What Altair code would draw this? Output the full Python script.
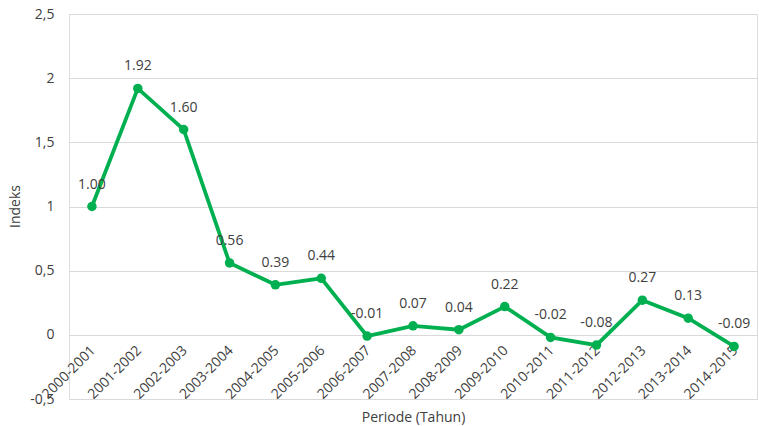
import altair as alt
import pandas as pd

# Period labels and index values
periods = [
    "2000-2001", "2001-2002", "2002-2003", "2003-2004", "2004-2005",
    "2005-2006", "2006-2007", "2007-2008", "2008-2009", "2009-2010",
    "2010-2011", "2011-2012", "2012-2013", "2013-2014", "2014-2015",
]
indeks = [1.00, 1.92, 1.60, 0.56, 0.39, 0.44, -0.01, 0.07, 0.04, 0.22,
          -0.02, -0.08, 0.27, 0.13, -0.09]

df = pd.DataFrame({"periode": periods, "indeks": indeks})

FONT = "Open Sans"
TXT = "#404040"
GREEN = "#00B050"

x_enc = alt.X(
    "periode:N",
    sort=periods,
    scale=alt.Scale(type="point", padding=0.5),
    axis=alt.Axis(
        title="Periode (Tahun)",
        labelAngle=-45,
        labelFontSize=14,
        labelColor=TXT,
        labelFont=FONT,
        labelPadding=8,
        labelOffset=-4,
        offset=-64,
        ticks=False,
        domain=False,
        grid=False,
        titleFont=FONT,
        titleFontSize=14,
        titleFontWeight="normal",
        titleColor=TXT,
        titleY=82,
        titleBaseline="middle",
    ),
)

y_enc = alt.Y(
    "indeks:Q",
    scale=alt.Scale(domain=[-0.5, 2.5], nice=False, zero=False),
    axis=alt.Axis(
        title="Indeks",
        values=[-0.5, 0, 0.5, 1, 1.5, 2, 2.5],
        labelExpr="replace(toString(datum.value), '.', ',')",
        labelFontSize=14,
        labelColor=TXT,
        labelFont=FONT,
        labelPadding=15,
        ticks=False,
        domain=False,
        gridColor="#d9d9d9",
        gridWidth=1,
        titleFont=FONT,
        titleFontSize=14,
        titleFontWeight="normal",
        titleColor=TXT,
        titleX=-54,
        titleY=192,
        titleBaseline="middle",
        titleAlign="center",
    ),
)

base = alt.Chart(df).encode(x=x_enc, y=y_enc)

line = base.mark_line(color=GREEN, strokeWidth=3.8)
points = base.mark_circle(color=GREEN, size=90, opacity=1)
labels = (
    base.transform_calculate(
        lbl="replace(format(datum.indeks, '.2f'), '\u2212', '-')"
    )
    .mark_text(dy=-22, font=FONT, fontSize=14, color=TXT)
    .encode(text="lbl:N")
)

chart = (
    alt.layer(line, points, labels)
    .properties(
        width=688,
        height=385,
        padding={"left": 69, "top": 14, "right": 2, "bottom": 27},
        autosize=alt.AutoSizeParams(type="none"),
    )
    .configure_view(stroke=None)
    .configure(background="white")
)

chart.save("out.html", embed_options={"renderer": "svg", "actions": False})
